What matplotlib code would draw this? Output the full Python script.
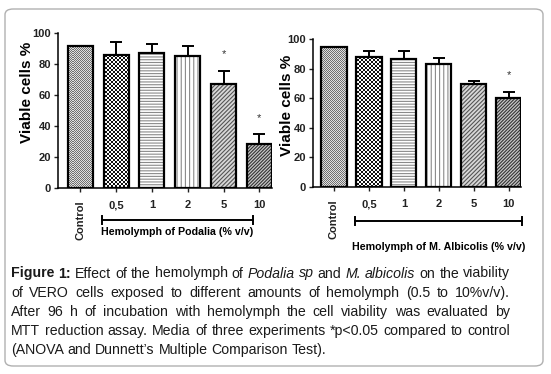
import matplotlib
matplotlib.use("Agg")
import matplotlib.pyplot as plt
from matplotlib.patches import FancyBboxPatch
import numpy as np

plt.rcParams['font.family'] = ['Liberation Sans', 'DejaVu Sans']

# ---------------- data ----------------
categories = ["Control", "0,5", "1", "2", "5", "10"]
podalia_mean = [91.6, 85.8, 86.9, 85.2, 67.0, 28.4]
podalia_err = [0.0, 8.6, 6.0, 6.4, 8.7, 6.2]
podalia_sig = [False, False, False, False, True, True]
albicolis_mean = [94.6, 87.9, 86.2, 83.4, 69.8, 60.0]
albicolis_err = [0.0, 4.3, 5.4, 3.8, 1.9, 4.4]
albicolis_sig = [False, False, False, False, False, True]
yticks = [0, 20, 40, 60, 80, 100]
xlabel_left = "Hemolymph of Podalia (% v/v)"
xlabel_right = "Hemolymph of M. Albicolis (% v/v)"
ylabel = "Viable cells %"

# patterns per bar: (facecolor, hatch, hatchcolor, checker-cell-px or None, checker colors)
patterns = [("#b0b0b0", None, None, 1, ("#707070", "#e0e0e0")),
            ("white", None, None, 2, ("#111111", "#ffffff")),
            ("white", "------", "#8a8a8a", None, None),
            ("white", "||||", "#8a8a8a", None, None),
            ("#d8d8d8", "////////", "#555555", None, None),
            ("#c8c8c8", "//////////", "#333333", None, None)]

W, H = 551, 374
fig = plt.figure(figsize=(W / 100, H / 100), dpi=100)

# figure border
border = FancyBboxPatch((5 / W, 8 / H), (543 - 5) / W, (365 - 8) / H,
                        boxstyle="round,pad=0,rounding_size=0.015",
                        transform=fig.transFigure, fill=False,
                        edgecolor="#b0b0b0", linewidth=1.0)
fig.patches.append(border)


def checker(cell, c1, c2, nx, ny):
    yy, xx = np.mgrid[0:ny, 0:nx]
    m = ((xx // cell) + (yy // cell)) % 2
    a = np.array(matplotlib.colors.to_rgb(c1))
    b = np.array(matplotlib.colors.to_rgb(c2))
    return np.where(m[..., None] == 0, a, b)


def panel(rect, means, errs, sig, xlab, xlim, bracket_px, label_y_px, ylab, bw):
    ax = fig.add_axes(rect)
    x = np.arange(len(categories))
    plt.rcParams['hatch.linewidth'] = 0.8
    ax.set_xlim(*xlim)
    ax.set_ylim(0, 100)
    nx = int(round(rect[2] * W))
    ny = int(round(rect[3] * H))
    for i, (m, p) in enumerate(zip(means, patterns)):
        fc, hatch, hc, cell, cc = p
        if cell is None:
            ax.bar(x[i], m, width=bw, color=fc, edgecolor=hc, hatch=hatch, linewidth=0, zorder=2)
        else:
            bars = ax.bar(x[i], m, width=bw, color=fc, linewidth=0, zorder=2)
            img = checker(cell, *cc, nx, ny)
            im = ax.imshow(img, extent=(xlim[0], xlim[1], 0, 100), aspect="auto",
                           interpolation="nearest", zorder=2.5)
            im.set_clip_path(bars[0])
    ax.bar(x, means, width=bw, fill=False, edgecolor="black", linewidth=1.6, zorder=3)
    ax.errorbar(x, means, yerr=[np.zeros(len(errs)), errs], fmt="none", ecolor="black",
                elinewidth=1.4, capsize=4.2, capthick=1.4, zorder=1)
    for i, s in enumerate(sig):
        if s:
            ax.annotate("*", (x[i], means[i] + errs[i]), xytext=(0, 8), textcoords="offset points",
                        ha="center", va="bottom", fontsize=8, color="#333333")
    ax.set_xlim(*xlim)
    ax.set_ylim(0, 100)
    ax.set_yticks(yticks)
    ax.set_yticklabels([str(t) for t in yticks], fontsize=8, fontweight="bold")
    ax.set_xticks(x)
    ax.set_xticklabels(categories, fontsize=8, fontweight="bold")
    lbls = ax.get_xticklabels()
    lbls[0].set_rotation(90)
    lbls[0].set_va("top")
    for s in ["top", "right"]:
        ax.spines[s].set_visible(False)
    for s in ["left", "bottom"]:
        ax.spines[s].set_linewidth(1.1)
    ax.tick_params(axis="both", length=3, width=1, pad=2, colors="#222222")
    ax.tick_params(axis="x", pad=6)
    ax.set_ylabel(ylabel, fontsize=11, fontweight="bold")
    lx_px, ly_frac = ylab
    ax.yaxis.set_label_coords((lx_px - rect[0] * W) / (rect[2] * W), ly_frac)
    # bracket
    x0, x1, yb = bracket_px
    fy = 1 - yb / H
    fig.add_artist(plt.Line2D([x0 / W, x1 / W], [fy, fy], transform=fig.transFigure,
                              color="black", linewidth=1.4))
    for xx in (x0, x1):
        fig.add_artist(plt.Line2D([xx / W, xx / W], [fy - 4 / H, fy + 4 / H],
                                  transform=fig.transFigure, color="black", linewidth=1.4))
    fig.text((x0 + x1) / 2 / W, 1 - label_y_px / H, xlab, ha="center", va="center",
             fontsize=7.7, fontweight="bold")
    return ax


panel([58 / W, 1 - 188 / H, 214 / W, 155 / H], podalia_mean, podalia_err, podalia_sig,
      xlabel_left, (-0.62, 5.35), (101.5, 253, 220), 232, (34, 0.62), 0.7)
panel([313 / W, 1 - 186.7 / H, 208 / W, 147.7 / H], albicolis_mean, albicolis_err, albicolis_sig,
      xlabel_right, (-0.6, 5.35), (355, 521.5, 220.5), 247, (294, 0.55), 0.72)

# ---------------- caption (justified) ----------------
R, B, I = "normal", "bold", "italic"
caption_lines = [
    [("Figure", B), ("1:", B), ("Effect", R), ("of", R), ("the", R), ("hemolymph", R), ("of", R),
     ("Podalia", I), ("sp", I), ("and", R), ("M.", I), ("albicolis", I), ("on", R), ("the", R), ("viability", R)],
    [(w, R) for w in "of VERO cells exposed to different amounts of hemolymph (0.5 to 10%v/v).".split()],
    [(w, R) for w in "After 96 h of incubation with hemolymph the cell viability was evaluated by".split()],
    [(w, R) for w in "MTT reduction assay. Media of three experiments *p<0.05 compared to control".split()],
    [(w, R) for w in "(ANOVA and Dunnett\u2019s Multiple Comparison Test).".split()],
]
justify = [True, True, True, True, False]
baselines = [277.5, 297, 316, 335, 354]
cap_x0, cap_x1 = 11, 510
cap_fs = 10.15
cap_color = "#1a1a1a"

fig.canvas.draw()
renderer = fig.canvas.get_renderer()
ts = fig.text(0, 0, "a a", fontsize=cap_fs)
ta = fig.text(0, 0, "aa", fontsize=cap_fs)
space_w = ts.get_window_extent(renderer).width - ta.get_window_extent(renderer).width
ts.remove(); ta.remove()
for line, just, yb in zip(caption_lines, justify, baselines):
    texts = []
    widths = []
    for w, st in line:
        kw = dict(fontsize=cap_fs, color=cap_color, va="baseline", ha="left")
        if st == B:
            kw["fontweight"] = "bold"
        if st == I:
            kw["fontstyle"] = "italic"
        t = fig.text(0, 1 - yb / H, w, **kw)
        widths.append(t.get_window_extent(renderer).width)
        texts.append(t)
    total = sum(widths)
    n = len(widths)
    gap = (cap_x1 - cap_x0 - total) / (n - 1) if just else space_w
    xc = cap_x0
    for t, wd in zip(texts, widths):
        t.set_x(xc / W)
        xc += wd + gap

fig.savefig("out.png", dpi=100)
